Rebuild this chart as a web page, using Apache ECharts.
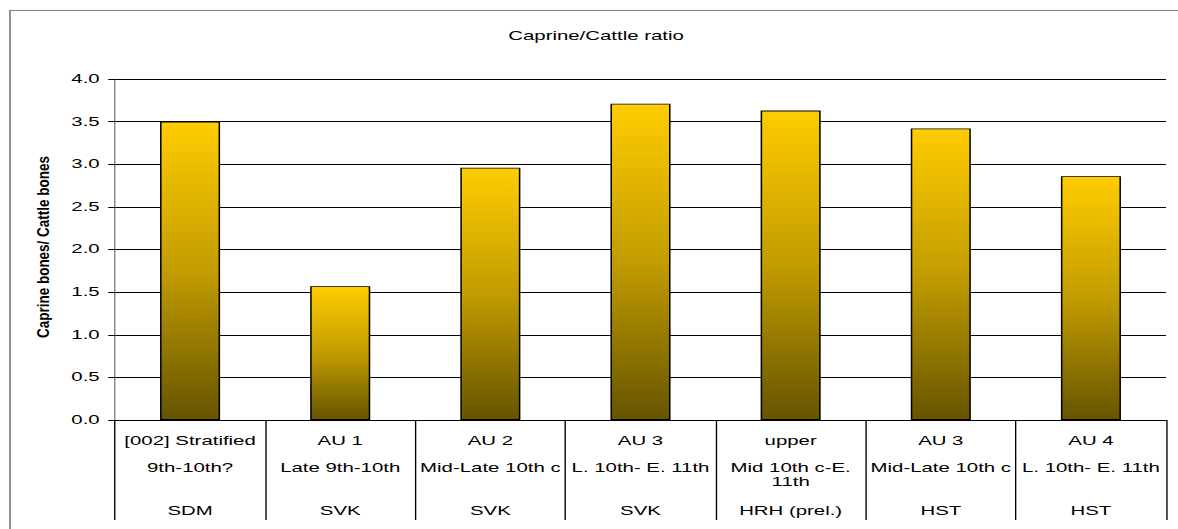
<!DOCTYPE html>
<html>
<head>
<meta charset="utf-8">
<script src="https://cdn.jsdelivr.net/npm/echarts@6/dist/echarts.min.js"></script>
<style>
  html, body { margin: 0; padding: 0; background: #fff; overflow: hidden; }
  #wrap { width: 1178px; height: 529px; overflow: hidden; position: relative; }
  /* the chart is laid out narrow and widened, giving the wide lettering of the original sheet */
  #chart { width: 693px; height: 529px; transform: scaleX(1.69986); transform-origin: 0 0; }
</style>
</head>
<body>
<div id="wrap"><div id="chart"></div></div>
<script>
// Context / phase of each assemblage
const contexts = ['[002] Stratified', 'AU 1', 'AU 2', 'AU 3', 'upper', 'AU 3', 'AU 4'];
// Dating of each assemblage
const periods = ['9th-10th?', 'Late 9th-10th', 'Mid-Late 10th c', 'L. 10th- E. 11th',
                 'Mid 10th c-E.\n11th', 'Mid-Late 10th c', 'L. 10th- E. 11th'];
// Site code
const sites = ['SDM', 'SVK', 'SVK', 'SVK', 'HRH (prel.)', 'HST', 'HST'];
// Caprine bones / cattle bones
const ratios = [3.50, 1.57, 2.96, 3.71, 3.63, 3.42, 2.86];
// Value axis ticks
const yMin = 0, yMax = 4, yStep = 0.5;

const FONT = '"Liberation Sans", Arial, sans-serif';
const SX = 1178 / 693;

const chart = echarts.init(document.getElementById('chart'), null, { renderer: 'svg' });

const labelBase = { fontFamily: FONT, fontSize: 12, color: '#000', interval: 0, lineHeight: 14 };

chart.setOption({
  animation: false,
  backgroundColor: '#fff',
  title: {
    text: 'Caprine/Cattle ratio',
    left: 299,
    top: 30,
    padding: 0,
    textStyle: { fontFamily: FONT, fontSize: 12, fontWeight: 'normal', color: '#000', lineHeight: 12 }
  },
  graphic: [
    {
      type: 'rect',
      silent: true,
      z: -10,
      shape: { x: 10 / SX, y: 10.5, width: 800, height: 600 },
      style: { fill: 'none', stroke: '#808080', lineWidth: 1 }
    },
    {
      type: 'text',
      silent: true,
      x: 44 / SX,
      y: 247,
      rotation: Math.PI / 2,
      scaleY: 0.68,
      style: {
        text: 'Caprine bones/ Cattle bones',
        fontFamily: FONT,
        fontSize: 13.5,
        fontWeight: 'bold',
        fill: '#000',
        align: 'center',
        verticalAlign: 'middle'
      }
    }
  ],
  grid: { left: 115 / SX, right: 693 - 1166 / SX, top: 79, bottom: 109, containLabel: false },
  xAxis: [
    {
      type: 'category',
      data: contexts,
      position: 'bottom',
      axisLine: { show: true, lineStyle: { color: '#000', width: 1 } },
      axisTick: { show: true, length: 100, lineStyle: { color: '#000', width: 0.8 } },
      axisLabel: Object.assign({ margin: 14 }, labelBase),
      splitLine: { show: false }
    },
    {
      type: 'category',
      data: periods,
      position: 'bottom',
      axisLine: { show: false },
      axisTick: { show: false },
      axisLabel: Object.assign({ margin: 41 }, labelBase),
      splitLine: { show: false }
    },
    {
      type: 'category',
      data: sites,
      position: 'bottom',
      axisLine: { show: false },
      axisTick: { show: false },
      axisLabel: Object.assign({ margin: 84 }, labelBase),
      splitLine: { show: false }
    }
  ],
  yAxis: {
    type: 'value',
    min: yMin,
    max: yMax,
    interval: yStep,
    axisLine: { show: true, lineStyle: { color: '#808080', width: 0.8 } },
    axisTick: { show: true, length: 4, lineStyle: { color: '#000', width: 1 } },
    axisLabel: {
      margin: 9, fontFamily: FONT, fontSize: 12, color: '#000',
      formatter: v => v.toFixed(1)
    },
    splitLine: { show: true, lineStyle: { color: '#000', width: 1 } }
  },
  series: [
    {
      type: 'bar',
      xAxisIndex: 0,
      data: ratios,
      barWidth: '40%',
      itemStyle: {
        color: new echarts.graphic.LinearGradient(0, 0, 0, 1, [
          { offset: 0, color: '#FFCC00' },
          { offset: 0.5, color: '#C29C00' },
          { offset: 1, color: '#665400' }
        ]),
        borderColor: '#000',
        borderWidth: 0.9
      }
    }
  ]
});
</script>
</body>
</html>
